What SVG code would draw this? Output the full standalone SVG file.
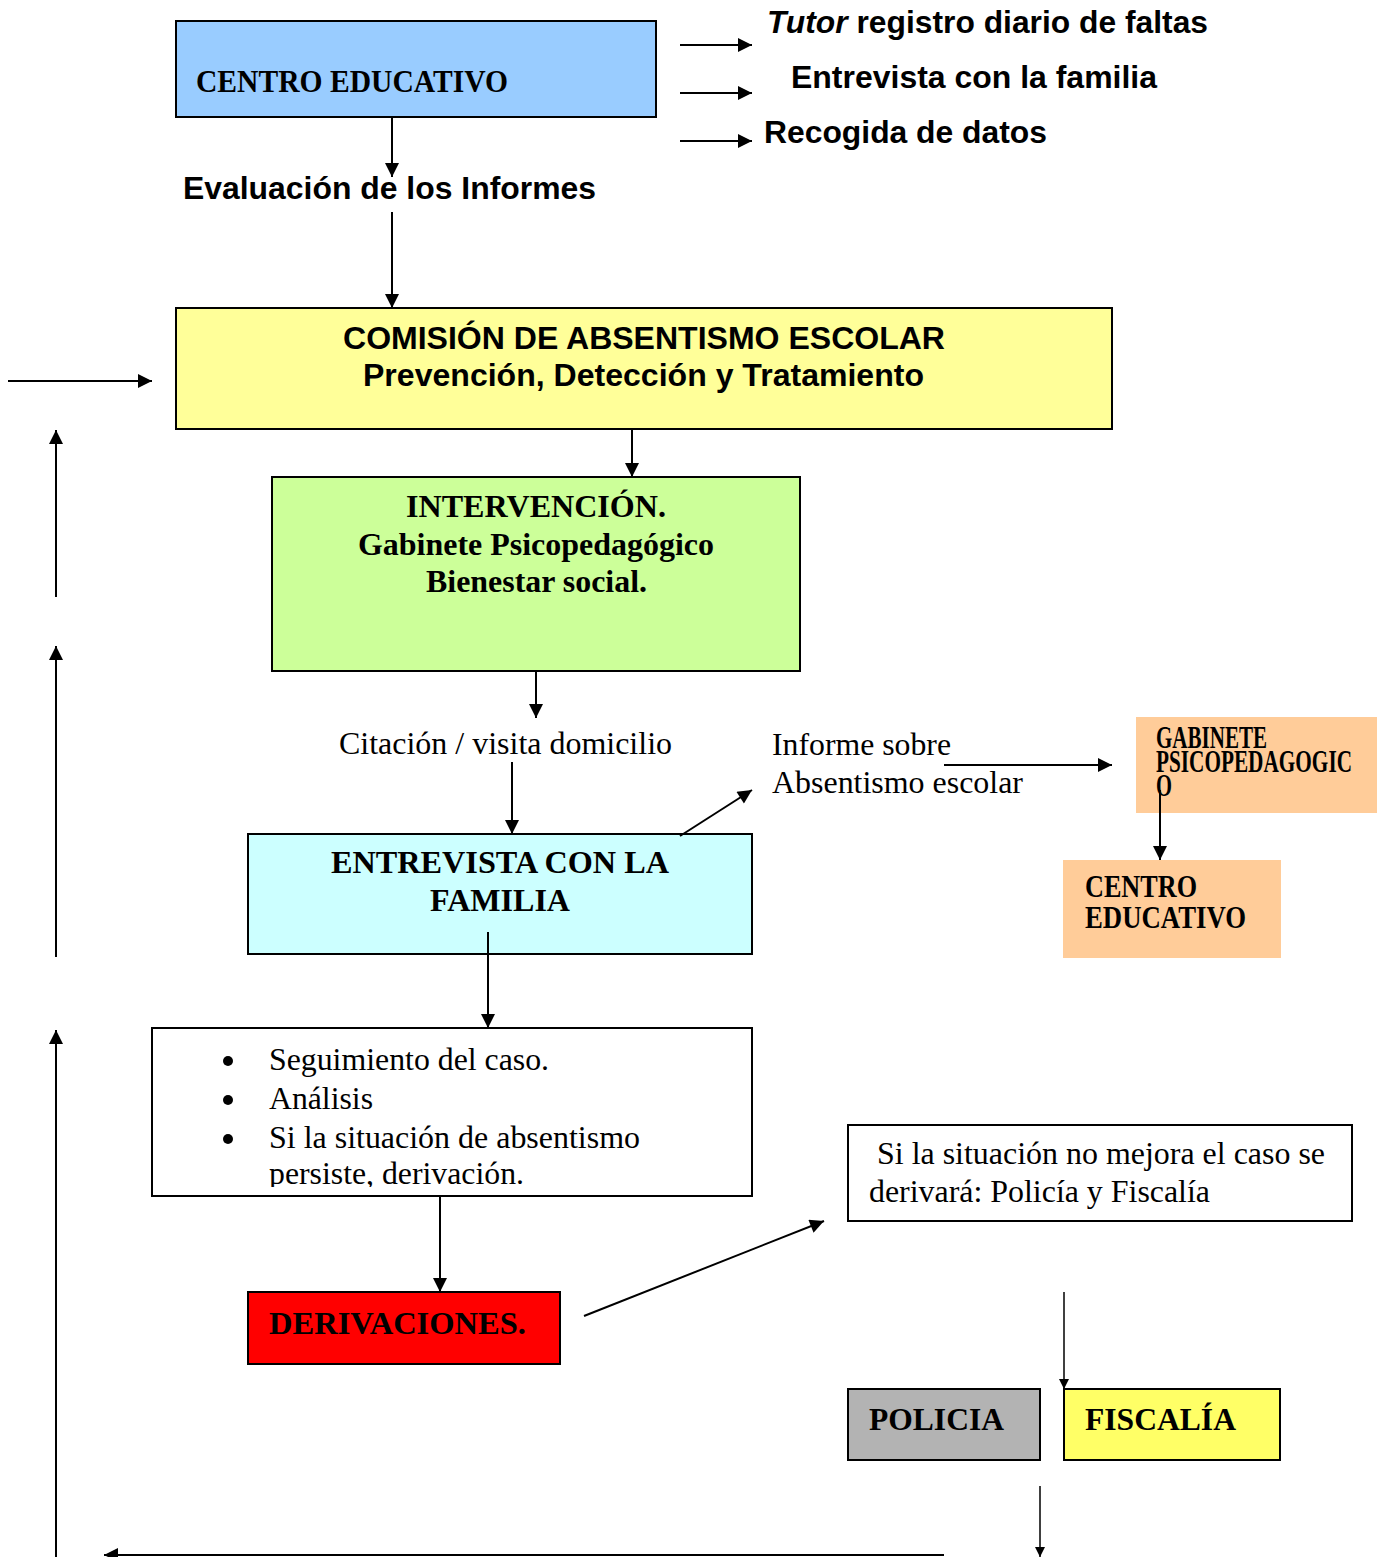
<svg xmlns="http://www.w3.org/2000/svg" width="1386" height="1557" viewBox="0 0 1386 1557">
<defs>
<marker id="ah" viewBox="0 0 10 10" refX="10" refY="5" markerWidth="10" markerHeight="10" markerUnits="userSpaceOnUse" orient="auto">
<path d="M0,0 L10,5 L0,10 z" fill="#000"/>
</marker>
<marker id="ahb" viewBox="0 0 10 10" refX="10" refY="5" markerWidth="16" markerHeight="14" markerUnits="userSpaceOnUse" orient="auto">
<path d="M0,0 L10,5 L0,10 z" fill="#000"/>
</marker>
</defs>
<style>
.box{stroke:#000;stroke-width:2}
.sb{font-family:"Liberation Sans",Arial,sans-serif;font-weight:bold;font-size:32px;fill:#000}
.tb{font-family:"Liberation Serif","Times New Roman",serif;font-weight:bold;font-size:31px;fill:#000}
.tr{font-family:"Liberation Serif","Times New Roman",serif;font-size:32px;fill:#000}
.c{stroke:#000;stroke-width:2;fill:none;marker-end:url(#ahb)}
.c1{stroke:#000;stroke-width:1.5;fill:none;marker-end:url(#ah)}
</style>
<rect width="1386" height="1557" fill="#fff"/>

<g id="centro-educativo">
<rect class="box" x="176" y="21" width="480" height="96" fill="#99CCFF"/>
<text class="tb" x="196" y="92" font-size="30" textLength="312" lengthAdjust="spacingAndGlyphs">CENTRO EDUCATIVO</text>
</g>

<g id="acciones">
<text class="sb" x="767" y="33" textLength="441" lengthAdjust="spacingAndGlyphs"><tspan font-style="italic">Tutor</tspan> registro diario de faltas</text>
<text class="sb" x="791" y="88" textLength="366" lengthAdjust="spacingAndGlyphs">Entrevista con la familia</text>
<text class="sb" x="764" y="143" textLength="283" lengthAdjust="spacingAndGlyphs">Recogida de datos</text>
</g>

<g id="evaluacion">
<text class="sb" x="183" y="199" textLength="413" lengthAdjust="spacingAndGlyphs">Evaluación de los Informes</text>
</g>

<g id="comision">
<rect class="box" x="176" y="308" width="936" height="121" fill="#FFFF99"/>
<text class="sb" x="343" y="349" textLength="602" lengthAdjust="spacingAndGlyphs">COMISIÓN DE ABSENTISMO ESCOLAR</text>
<text class="sb" x="363" y="386" textLength="561" lengthAdjust="spacingAndGlyphs">Prevención, Detección y Tratamiento</text>
</g>

<g id="intervencion">
<rect class="box" x="272" y="477" width="528" height="194" fill="#CCFF99"/>
<text class="tb" x="406" y="517" textLength="260" lengthAdjust="spacingAndGlyphs">INTERVENCIÓN.</text>
<text class="tb" x="358" y="555" textLength="356" lengthAdjust="spacingAndGlyphs">Gabinete Psicopedagógico</text>
<text class="tb" x="426" y="592" textLength="221" lengthAdjust="spacingAndGlyphs">Bienestar social.</text>
</g>

<g id="citacion">
<text class="tr" x="339" y="754" textLength="333" lengthAdjust="spacingAndGlyphs">Citación / visita domicilio</text>
</g>

<g id="entrevista">
<rect class="box" x="248" y="834" width="504" height="120" fill="#CCFFFF"/>
<text class="tb" x="331" y="873" textLength="338" lengthAdjust="spacingAndGlyphs">ENTREVISTA CON LA</text>
<text class="tb" x="430" y="911" textLength="140" lengthAdjust="spacingAndGlyphs">FAMILIA</text>
</g>

<g id="informe">
<text class="tr" x="772" y="755" textLength="179" lengthAdjust="spacingAndGlyphs">Informe sobre</text>
<text class="tr" x="772" y="793" textLength="251" lengthAdjust="spacingAndGlyphs">Absentismo escolar</text>
</g>

<g id="gabinete">
<rect x="1136" y="717" width="241" height="96" fill="#FFCC99"/>
<text class="tb" x="1156" y="748" font-size="20" textLength="111" lengthAdjust="spacingAndGlyphs">GABINETE</text>
<text class="tb" x="1156" y="772" font-size="20" textLength="196" lengthAdjust="spacingAndGlyphs">PSICOPEDAGOGIC</text>
<text class="tb" x="1156" y="796" font-size="20" textLength="16" lengthAdjust="spacingAndGlyphs">O</text>
</g>

<g id="centro-educativo-2">
<rect x="1063" y="860" width="218" height="98" fill="#FFCC99"/>
<text class="tb" x="1085" y="897" font-size="26" textLength="112" lengthAdjust="spacingAndGlyphs">CENTRO</text>
<text class="tb" x="1085" y="928" font-size="26" textLength="161" lengthAdjust="spacingAndGlyphs">EDUCATIVO</text>
</g>

<g id="seguimiento">
<rect class="box" x="152" y="1028" width="600" height="168" fill="#fff"/>
<circle cx="228" cy="1061" r="5"/>
<circle cx="228" cy="1100" r="5"/>
<circle cx="228" cy="1139" r="5"/>
<text class="tr" x="269" y="1070" textLength="280" lengthAdjust="spacingAndGlyphs">Seguimiento del caso.</text>
<text class="tr" x="269" y="1109" textLength="104" lengthAdjust="spacingAndGlyphs">Análisis</text>
<text class="tr" x="269" y="1148" textLength="371" lengthAdjust="spacingAndGlyphs">Si la situación de absentismo</text>
<svg x="152" y="1028" width="600" height="159" overflow="hidden"><text class="tr" x="117" y="156" textLength="255" lengthAdjust="spacingAndGlyphs">persiste, derivación.</text></svg>
</g>

<g id="derivaciones">
<rect class="box" x="248" y="1292" width="312" height="72" fill="#FF0000"/>
<text class="tb" x="269" y="1334" textLength="257" lengthAdjust="spacingAndGlyphs">DERIVACIONES.</text>
</g>

<g id="no-mejora">
<rect class="box" x="848" y="1125" width="504" height="96" fill="#fff"/>
<text class="tr" x="877" y="1164" textLength="448" lengthAdjust="spacingAndGlyphs">Si la situación no mejora el caso se</text>
<text class="tr" x="869" y="1202" textLength="341" lengthAdjust="spacingAndGlyphs">derivará: Policía y Fiscalía</text>
</g>

<g id="policia">
<rect class="box" x="848" y="1389" width="192" height="71" fill="#B3B3B3"/>
<text class="tb" x="869" y="1430" textLength="135" lengthAdjust="spacingAndGlyphs">POLICIA</text>
</g>

<g id="fiscalia">
<rect class="box" x="1064" y="1389" width="216" height="71" fill="#FFFF66"/>
<text class="tb" x="1085" y="1430" textLength="151" lengthAdjust="spacingAndGlyphs">FISCALÍA</text>
</g>

<g id="connectors">
<line class="c" x1="680" y1="45" x2="752" y2="45"/>
<line class="c" x1="680" y1="93" x2="752" y2="93"/>
<line class="c" x1="680" y1="141" x2="752" y2="141"/>
<line class="c" x1="392" y1="117" x2="392" y2="177"/>
<line class="c" x1="392" y1="212" x2="392" y2="308"/>
<line class="c" x1="8" y1="381" x2="152" y2="381"/>
<line class="c" x1="56" y1="597" x2="56" y2="430"/>
<line class="c" x1="56" y1="957" x2="56" y2="646"/>
<line class="c" x1="56" y1="1557" x2="56" y2="1030"/>
<line class="c" x1="632" y1="429" x2="632" y2="477"/>
<line class="c" x1="536" y1="671" x2="536" y2="718"/>
<line class="c" x1="512" y1="762" x2="512" y2="834"/>
<line class="c" x1="680" y1="836" x2="752" y2="790"/>
<line class="c" x1="944" y1="765" x2="1112" y2="765"/>
<line class="c" x1="1160" y1="790" x2="1160" y2="860"/>
<line class="c" x1="488" y1="932" x2="488" y2="1028"/>
<line class="c" x1="440" y1="1196" x2="440" y2="1292"/>
<line class="c" x1="584" y1="1316" x2="824" y2="1221"/>
<line class="c1" x1="1064" y1="1292" x2="1064" y2="1389"/>
<line class="c1" x1="1040" y1="1486" x2="1040" y2="1557"/>
<line class="c" x1="944" y1="1555" x2="104" y2="1555"/>
</g>
</svg>
